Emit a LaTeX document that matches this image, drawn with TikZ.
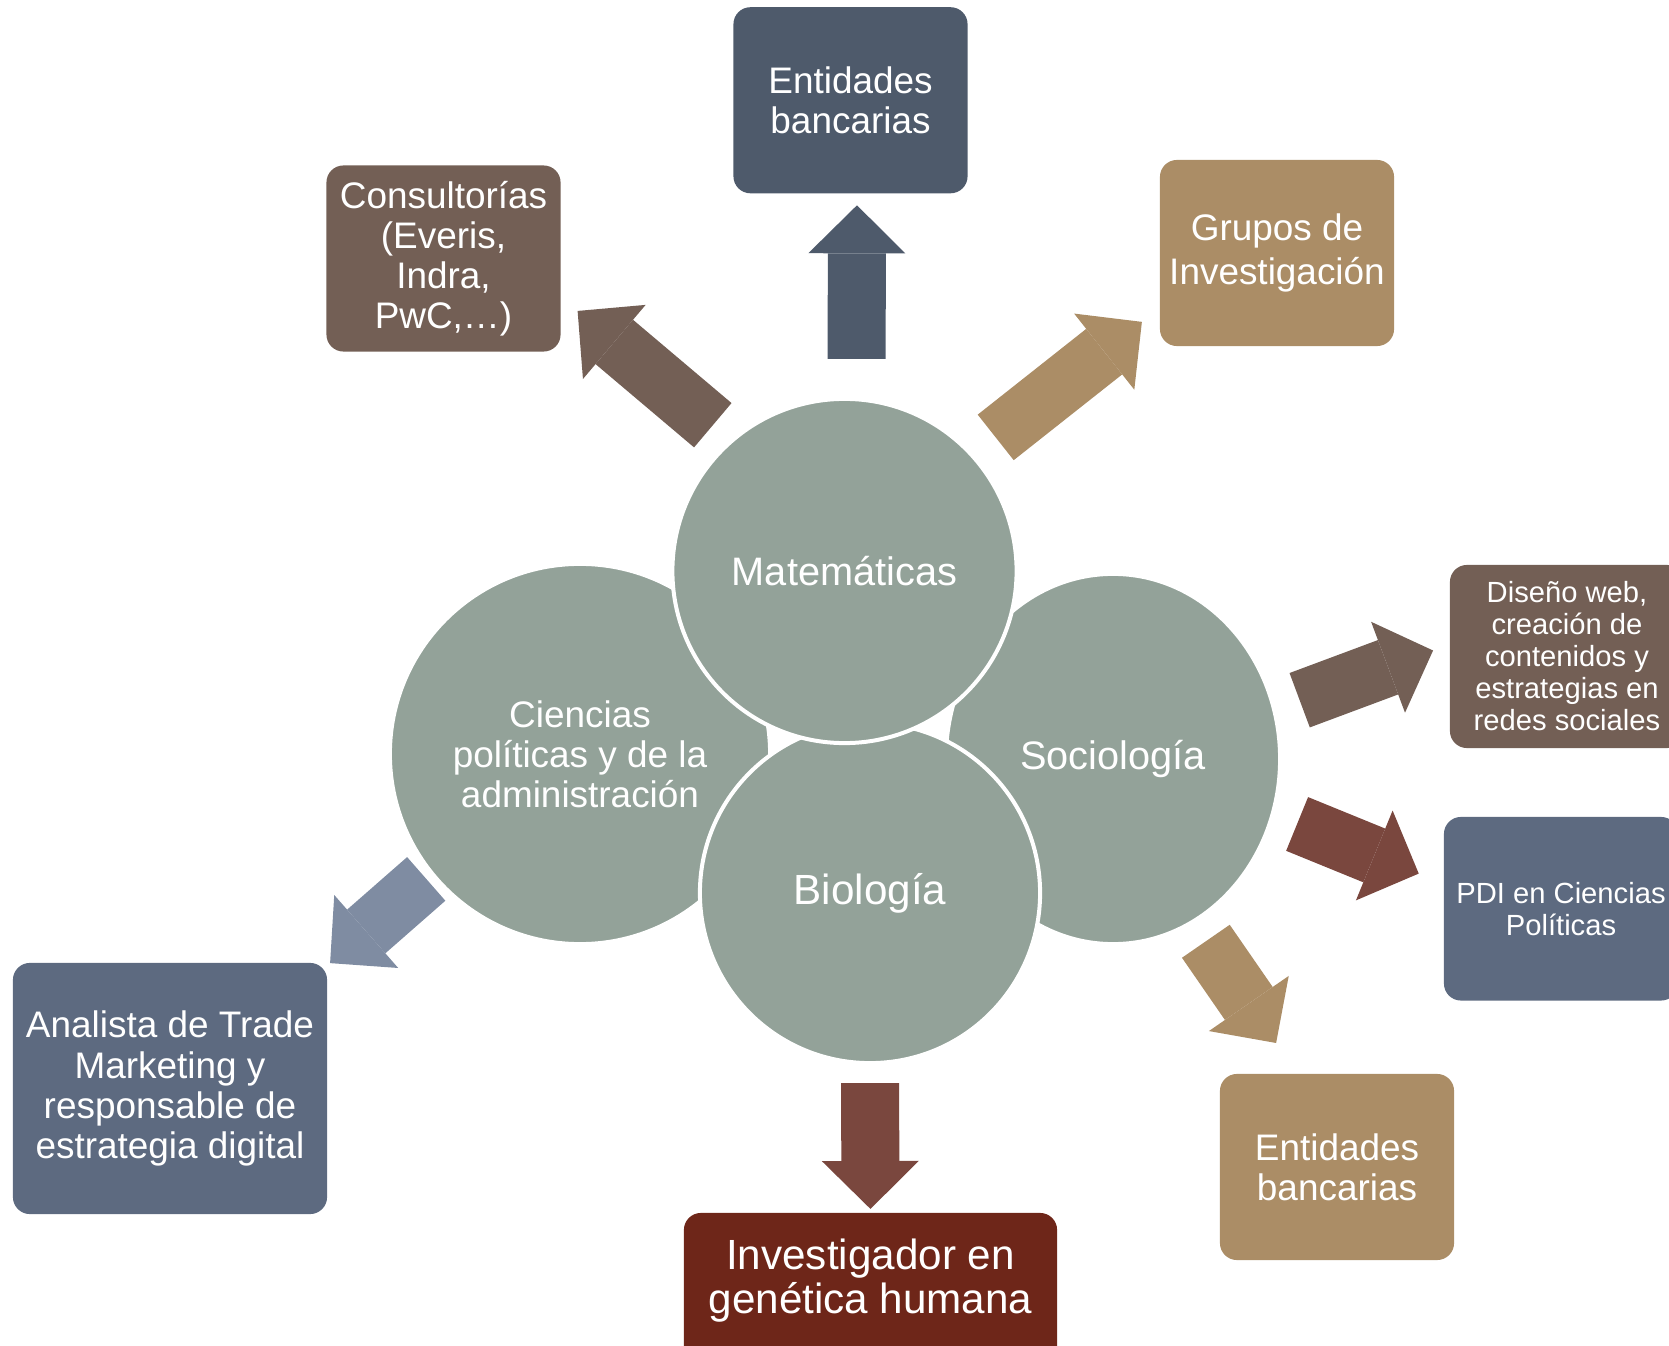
\documentclass[tikz,border=0pt]{standalone}
\usepackage{fontspec}
\setmainfont{Liberation Sans}
\usepackage{xcolor}
\usetikzlibrary{shapes.geometric,arrows.meta}

\definecolor{sage}{HTML}{93A299}
\definecolor{umber}{HTML}{735F55}
\definecolor{navy}{HTML}{4E5A6B}
\definecolor{tan}{HTML}{AB8D66}
\definecolor{slate}{HTML}{5D6A80}
\definecolor{bluegray}{HTML}{7F8CA2}
\definecolor{rust}{HTML}{7A473E}
\definecolor{maroon}{HTML}{6E2619}

\begin{document}
\begin{tikzpicture}[x=0.01cm, y=-0.01cm,
    circ/.style={circle, fill=sage, draw=white, line width=0.04cm, text=white, align=center, inner sep=0pt, outer sep=0pt},
    card/.style={rectangle, rounded corners=0.17cm, text=white, align=center, inner sep=0pt, outer sep=0pt, minimum width=2.34cm, minimum height=1.86cm},
    blockarrow/.style={line width=0.58cm, -{Triangle[width=0.97cm, length=0.48cm, line width=0pt]}},
    big/.style={font=\fontsize{10.5}{11.4}\selectfont},
    small/.style={font=\fontsize{8.3}{9.1}\selectfont}]
    \useasboundingbox (0,0) rectangle (1669,1346);

    % circles
    \node[circ, big, minimum size=3.80cm] (cie) at (580,754) {Ciencias\\políticas y de la\\administración};
    \node[circ, ellipse, minimum width=3.34cm, minimum height=3.70cm, font=\fontsize{11.3}{12}\selectfont] (soc) at (1113,759) {Sociología};
    \node[circ, minimum size=3.40cm, font=\fontsize{12}{13}\selectfont] (bio) at (870,893) {Biología};
    \node[circ, minimum size=3.44cm, font=\fontsize{11.3}{12}\selectfont] (mat) at (844.5,571) {Matemáticas};

    % boxes
    \node[card, big, fill=navy] (bank1) at (850.5,100.25) {Entidades\\bancarias};
    \node[card, big, fill=umber] (cons) at (443.5,258.5) {Consultorías\\(Everis,\\Indra,\\PwC,…)};
    \node[card, fill=tan, font=\fontsize{10.5}{12.7}\selectfont] (grupos) at (1277,253) {Grupos de\\Investigación};
    \node[card, small, fill=umber, minimum height=1.83cm] (web) at (1567,656.5) {Diseño web,\\creación de\\contenidos y\\estrategias en\\redes sociales};
    \node[card, small, fill=slate, minimum height=1.835cm] (pdi) at (1561,908.75) {PDI en Ciencias\\Políticas};
    \node[card, big, fill=tan] (bank2) at (1337,1167) {Entidades\\bancarias};
    \node[card, fill=maroon, minimum width=3.73cm, text depth=17pt, font=\fontsize{12}{12.7}\selectfont] (inv) at (870.5,1306) {Investigador en\\genética humana};
    \node[card, big, fill=slate, minimum width=3.14cm, minimum height=2.51cm] (ana) at (170,1088.5) {Analista de Trade\\Marketing y\\responsable de\\estrategia digital};

    % arrows
    \draw[blockarrow, umber, shorten <=0.246cm, shorten >=0.223cm] (mat.131.1) -- (cons.-18.8);
    \draw[blockarrow, navy, shorten <=0.404cm, shorten >=0.12cm] (mat.86) -- (bank1.-86.3);
    \draw[blockarrow, tan, shorten <=0.297cm, shorten >=0.23cm] (mat.42.8) -- (grupos.-155.75);
    \draw[blockarrow, umber, shorten <=0.273cm, shorten >=0.18cm] (soc.17.5) -- (web.174.4);
    \draw[blockarrow, rust, shorten <=0.265cm, shorten >=0.272cm] (soc.-19) -- (pdi.168.3);
    \draw[blockarrow, tan, shorten <=0.236cm, shorten >=0.376cm] (soc.-64.7) -- (bank2.113.6);
    \draw[blockarrow, rust, shorten <=0.20cm, shorten >=0.04cm] (bio.south) -- (inv.north);
    \draw[blockarrow, bluegray, shorten <=0.08cm, shorten >=0.04cm] (cie.-141.4) -- (ana.38.5);
\end{tikzpicture}
\end{document}
